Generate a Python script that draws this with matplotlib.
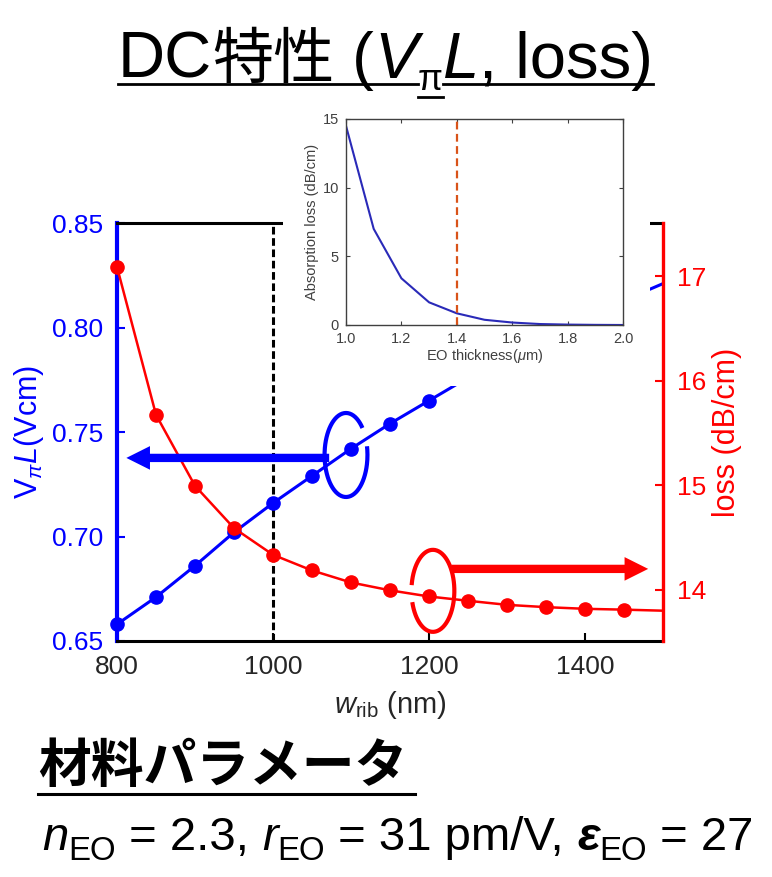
import matplotlib
matplotlib.use('Agg')
import matplotlib.pyplot as plt
import numpy as np
from matplotlib.patches import Rectangle
from matplotlib.lines import Line2D
from matplotlib.ticker import FormatStrFormatter

plt.rcParams['font.family'] = ['Liberation Sans', 'Noto Sans CJK JP', 'DejaVu Sans']
plt.rcParams['mathtext.fontset'] = 'custom'
plt.rcParams['mathtext.rm'] = 'Liberation Sans'
plt.rcParams['mathtext.it'] = 'Liberation Sans:italic'
plt.rcParams['mathtext.bf'] = 'Liberation Sans:bold'

# main chart data
w_rib = [800, 850, 900, 950, 1000, 1050, 1100, 1150, 1200, 1250, 1300, 1350, 1400, 1450, 1500]
vpi_l = [0.658, 0.671, 0.686, 0.702, 0.716, 0.729, 0.742, 0.754, 0.765,
         0.776, 0.786, 0.796, 0.805, 0.813, 0.821]
loss = [17.09, 15.675, 14.995, 14.59, 14.335, 14.185, 14.07, 13.995, 13.936,
        13.895, 13.856, 13.834, 13.818, 13.81, 13.80]

# inset data
eo_thick = [1.0, 1.1, 1.2, 1.3, 1.4, 1.5, 1.6, 1.7, 1.8, 1.9, 2.0]
abs_loss = [14.5, 7.0, 3.4, 1.65, 0.85, 0.38, 0.18, 0.07, 0.03, 0.01, 0.0]

x_ticks = [800, 1000, 1200, 1400]
left_ticks = [0.65, 0.70, 0.75, 0.80, 0.85]
right_ticks = [14, 15, 16, 17]
inset_xticks = [1.0, 1.2, 1.4, 1.6, 1.8, 2.0]
inset_yticks = [0, 5, 10, 15]

blue = '#0000FF'
red = '#FF0000'
grey = '#262626'

W, H = 772, 877
fig = plt.figure(figsize=(W / 100, H / 100), dpi=100)


def fx(px):
    return px / W


def fy(py):
    return 1 - py / H


# ---- main axes ----
ax = fig.add_axes([fx(117), fy(641), fx(663) - fx(117), fy(223) - fy(641)])
ax2 = ax.twinx()

ax.set_xlim(800, 1500)
ax.set_ylim(0.65, 0.85)
ax2.set_ylim(13.51, 17.51)
ax.set_xticks(x_ticks)
ax.set_yticks(left_ticks)
ax.yaxis.set_major_formatter(FormatStrFormatter('%.2f'))
ax2.set_yticks(right_ticks)

for s in ['top', 'bottom']:
    ax.spines[s].set_color('black')
    ax.spines[s].set_linewidth(2.2)
ax.spines['left'].set_color(blue)
ax.spines['left'].set_linewidth(3)
ax.spines['right'].set_visible(False)
for s in ['left', 'top', 'bottom']:
    ax2.spines[s].set_visible(False)
ax2.spines['right'].set_color(red)
ax2.spines['right'].set_linewidth(2.4)

ax.tick_params(axis='y', colors=blue, direction='in', length=6, width=1.5, labelsize=19, pad=10)
ax.tick_params(axis='x', colors='black', labelcolor=grey, direction='in', length=6, width=1.5,
               labelsize=19, pad=10)
ax2.tick_params(axis='y', colors=red, direction='in', length=6, width=1.5, labelsize=19, pad=10)

ax.set_ylabel(r'$\mathrm{V}_{\pi}L$(Vcm)', color=blue, fontsize=22, labelpad=4)
ax2.set_ylabel('loss (dB/cm)', color=red, fontsize=22, labelpad=4)
ax.set_xlabel(r'$w_{\mathrm{rib}}$ (nm)', color=grey, fontsize=21, labelpad=7)

ax.axvline(1000, color='black', lw=2.2, ls=(0, (2.5, 1.2)), zorder=1.5)

ax.plot(w_rib, vpi_l, '-o', color=blue, lw=2.2, ms=9.5, markevery=slice(0, 14),
        clip_on=False, zorder=3)
ax2.plot(w_rib, loss, '-o', color=red, lw=1.8, ms=9.5, markevery=slice(0, 14),
         clip_on=False, zorder=3)

# arrows and open ellipses pointing each curve to its axis
arrow = 'simple,head_length=0.85,head_width=0.85,tail_width=0.3'
ax2.annotate('', xy=(812, 0.7376), xytext=(1072, 0.7376),
             xycoords=ax.transData, textcoords=ax.transData,
             arrowprops=dict(arrowstyle=arrow, mutation_scale=20, fc=blue, ec=blue, lw=0,
                             shrinkA=0, shrinkB=0))
ax2.annotate('', xy=(1481, 14.2), xytext=(1229, 14.2),
             arrowprops=dict(arrowstyle=arrow, mutation_scale=20, fc=red, ec=red, lw=0,
                             shrinkA=0, shrinkB=0))
t_blue = np.radians(np.linspace(40, 372, 200))
ax.plot(1093.6 + 27.5 * np.cos(t_blue), 0.739 + 0.0201 * np.sin(t_blue),
        color=blue, lw=3, zorder=4, solid_capstyle='butt')
t_red = np.radians(np.linspace(196, 532, 200))
ax2.plot(1205 + 27.5 * np.cos(t_red), 13.99 + 0.3925 * np.sin(t_red),
         color=red, lw=3, zorder=4, solid_capstyle='butt')

# ---- inset (pasted figure) ----
fig.add_artist(Rectangle((fx(283), fy(386)), fx(650) - fx(283), fy(100) - fy(386),
                         transform=fig.transFigure, fc='white', ec='none', zorder=4))
ins = fig.add_axes([fx(346), fy(325), fx(623) - fx(346), fy(119) - fy(325)], zorder=5)
ins.plot(eo_thick, abs_loss, color='#2A2AB8', lw=1.5)
ins.axvline(1.4, color='#D95319', lw=1.6, ls=(0, (3.5, 2)))
ins.set_xlim(1.0, 2.0)
ins.set_ylim(0, 15)
ins.set_xticks(inset_xticks)
ins.set_yticks(inset_yticks)
ins.xaxis.set_major_formatter(FormatStrFormatter('%.1f'))
ins.tick_params(direction='in', top=True, right=True, length=3, width=0.8,
                labelsize=10.5, colors='#404040')
ins.tick_params(axis='x', pad=5)
ins.tick_params(axis='y', pad=5)
for s in ins.spines.values():
    s.set_color('#404040')
    s.set_linewidth(1)
ins.set_xlabel(r'EO thickness($\mu$m)', fontsize=10.5, color='#404040', labelpad=1)
ins.set_ylabel('Absorption loss (dB/cm)', fontsize=10.5, color='#404040', labelpad=3)

# ---- slide text ----
renderer = fig.canvas.get_renderer()


def text_run(x0, y0, pieces):
    x = x0
    spans = []
    for s, dy, kw in pieces:
        t = fig.text(fx(x), fy(y0 + dy), s, ha='left', va='baseline', **kw)
        bb = t.get_window_extent(renderer=renderer)
        spans.append((x, bb.x1))
        x = bb.x1
    return spans


lat = dict(family='Liberation Sans', size=47)
lat_it = dict(family='Liberation Sans', size=47, style='italic')
cjk = dict(family='Noto Sans CJK JP', size=44)
title = text_run(118, 78, [
    ('DC', 0, lat),
    ('特性', 0, cjk),
    (' (', 0, lat),
    ('V', 0, lat_it),
    ('π', 12, dict(family='Liberation Sans', size=26)),
    ('L', 0, lat_it),
    (', loss)', 0, lat),
])
pi_x0, pi_x1 = title[4]
fig.add_artist(Line2D([fx(118), fx(pi_x0)], [fy(84), fy(84)], color='black', lw=2))
fig.add_artist(Line2D([fx(pi_x1), fx(title[-1][1])], [fy(84), fy(84)], color='black', lw=2))
fig.add_artist(Line2D([fx(pi_x0), fx(pi_x1)], [fy(97), fy(97)], color='black', lw=2))

head = text_run(38, 782, [('材料パラメータ', 0, dict(family='Noto Sans CJK JP', size=38,
                                                  weight='bold'))])
fig.add_artist(Line2D([fx(38), fx(head[-1][1] + 8)], [fy(794), fy(794)], color='black', lw=2.2))

S = 34
reg = dict(family='Liberation Sans', size=S)
it = dict(family='Liberation Sans', size=S, style='italic')
sub = dict(family='Liberation Sans', size=S * 0.7)
text_run(42, 850, [
    ('n', 0, it), ('EO', 10, sub), (' = 2.3, ', 0, reg),
    ('r', 0, it), ('EO', 10, sub), (' = 31 pm/V, ', 0, reg),
    ('ε', 0, dict(family='Liberation Sans', size=S, style='italic', weight='bold')),
    ('EO', 10, sub), (' = 27', 0, reg),
])

fig.savefig('out.png', dpi=100)
